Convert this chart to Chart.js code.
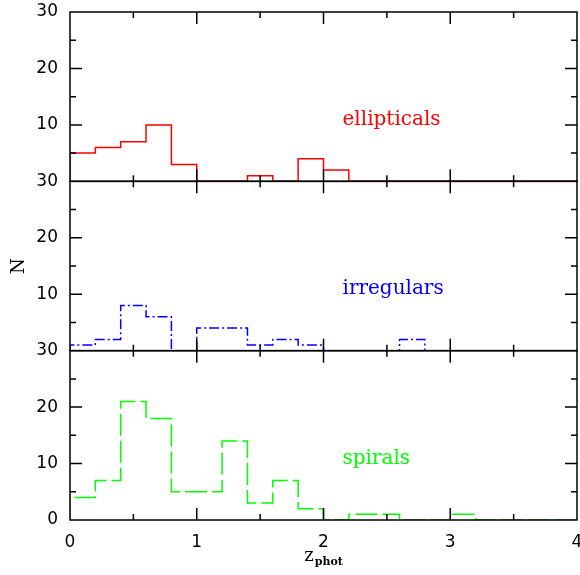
<!DOCTYPE html>
<html>
<head>
<meta charset="utf-8">
<script src="https://cdn.jsdelivr.net/npm/chart.js@4"></script>
<style>
  html, body { margin: 0; padding: 0; background: #fff; }
  #wrap { width: 580px; height: 575px; }
</style>
</head>
<body>
<div id="wrap"><canvas id="histChart" width="580" height="575"></canvas></div>
<script>
// lower edge of each z_phot bin (bin width 0.2)
const binStarts = [0.0, 0.2, 0.4, 0.6, 0.8, 1.0, 1.2, 1.4, 1.6, 1.8,
                   2.0, 2.2, 2.4, 2.6, 2.8, 3.0, 3.2, 3.4, 3.6, 3.8];
const zMax = 4.0;

// counts per bin
const ellipticals = [5, 6, 7, 10, 3, 0, 0, 1, 0, 4, 2, 0, 0, 0, 0, 0, 0, 0, 0, 0];
const irregulars  = [1, 2, 8, 6, 0, 4, 4, 1, 2, 1, 0, 0, 0, 2, 0, 0, 0, 0, 0, 0];
const spirals     = [4, 7, 21, 18, 5, 5, 14, 3, 7, 2, 0, 1, 1, 0, 0, 1, 0, 0, 0, 0];

const xTicks = [0, 1, 2, 3, 4];
const yTicks = [0, 10, 20, 30];

const panels = [
    { id: 'yTop', name: 'ellipticals', color: '#ff0000', dash: [],            counts: ellipticals },
    { id: 'yMid', name: 'irregulars',  color: '#0000ff', dash: [10, 3, 2, 3], counts: irregulars },
    { id: 'yBot', name: 'spirals',     color: '#00ff00', dash: [22, 5],       counts: spirals }
];

const tickFont = { family: 'DejaVu Sans', size: 17 };

// outline of a histogram: start and end on the baseline
function histPoints(counts) {
    const pts = [{ x: binStarts[0], y: 0 }];
    binStarts.forEach((x, i) => pts.push({ x: x, y: counts[i] }));
    pts.push({ x: zMax, y: counts[counts.length - 1] });
    pts.push({ x: zMax, y: 0 });
    return pts;
}

function yScale(id, weight, showZero) {
    return {
        type: 'linear',
        position: 'left',
        stack: 'panels',
        stackWeight: 1,
        weight: weight,
        min: 0,
        max: 30,
        afterBuildTicks: s => { s.ticks = yTicks.map(v => ({ value: v })); },
        grid: { display: false, drawTicks: false },
        border: { display: false },
        ticks: {
            color: '#000',
            font: tickFont,
            padding: 12,
            callback: v => (v === 0 && !showZero) ? '' : String(v)
        },
        afterFit: s => { s.width = 70; s.paddingTop = 0; s.paddingBottom = 0; }
    };
}

// frame, inward ticks, panel names and axis titles
const panelFrame = {
    id: 'panelFrame',
    afterDatasetsDraw(chart) {
        const ctx = chart.ctx;
        const xs = chart.scales.x;
        ctx.save();
        ctx.strokeStyle = '#000';
        ctx.lineWidth = 1.5;
        panels.forEach(p => {
            const ys = chart.scales[p.id];
            const top = ys.getPixelForValue(30);
            const bot = ys.getPixelForValue(0);
            ctx.strokeRect(xs.left, top, xs.right - xs.left, bot - top);
            ctx.beginPath();
            for (let z = 0.5; z < zMax; z += 0.5) {
                const px = xs.getPixelForValue(z);
                const len = z % 1 === 0 ? 12 : 6;
                ctx.moveTo(px, bot); ctx.lineTo(px, bot - len);
                ctx.moveTo(px, top); ctx.lineTo(px, top + len);
            }
            for (let v = 5; v < 30; v += 5) {
                const py = ys.getPixelForValue(v);
                const len = v % 10 === 0 ? 12 : 6;
                ctx.moveTo(xs.left, py); ctx.lineTo(xs.left + len, py);
                ctx.moveTo(xs.right, py); ctx.lineTo(xs.right - len, py);
            }
            ctx.stroke();

            ctx.fillStyle = p.color;
            ctx.font = '20px "DejaVu Serif"';
            ctx.textAlign = 'left';
            ctx.textBaseline = 'alphabetic';
            ctx.fillText(p.name, xs.getPixelForValue(2.15), ys.getPixelForValue(10));
        });

        // y title
        const area = chart.chartArea;
        ctx.fillStyle = '#000';
        ctx.save();
        ctx.translate(24, (area.top + area.bottom) / 2);
        ctx.rotate(-Math.PI / 2);
        ctx.textAlign = 'center';
        ctx.font = '18px "DejaVu Serif"';
        ctx.fillText('N', 0, 0);
        ctx.restore();

        // x title: z with subscript "phot"
        ctx.font = '18px "DejaVu Serif"';
        const wz = ctx.measureText('z').width;
        ctx.font = 'bold 11px "DejaVu Serif"';
        const ws = ctx.measureText('phot').width;
        const cx = (area.left + area.right) / 2;
        const x0 = cx - (wz + 1 + ws) / 2;
        ctx.textAlign = 'left';
        ctx.font = '18px "DejaVu Serif"';
        ctx.fillText('z', x0, 561);
        ctx.font = 'bold 11px "DejaVu Serif"';
        ctx.fillText('phot', x0 + wz + 1, 565);
        ctx.restore();
    }
};

new Chart(document.getElementById('histChart'), {
    type: 'line',
    data: {
        datasets: panels.map(p => ({
            label: p.name,
            data: histPoints(p.counts),
            yAxisID: p.id,
            borderColor: p.color,
            borderWidth: 1.5,
            borderDash: p.dash,
            stepped: 'before',
            pointRadius: 0,
            fill: false,
            tension: 0
        }))
    },
    options: {
        responsive: false,
        animation: false,
        layout: { padding: { top: 12, right: 3, left: 0, bottom: 0 } },
        plugins: { legend: { display: false }, tooltip: { enabled: false } },
        scales: {
            x: {
                type: 'linear',
                min: 0,
                max: zMax,
                afterBuildTicks: s => { s.ticks = xTicks.map(v => ({ value: v })); },
                grid: { display: false, drawTicks: false },
                border: { display: false },
                ticks: { color: '#000', font: tickFont, padding: 12, maxRotation: 0, autoSkip: false },
                afterFit: s => { s.height = 55; s.paddingLeft = 0; s.paddingRight = 0; }
            },
            yTop: yScale('yTop', 3, false),
            yMid: yScale('yMid', 2, false),
            yBot: yScale('yBot', 1, true)
        }
    },
    plugins: [panelFrame]
});
</script>
</body>
</html>
